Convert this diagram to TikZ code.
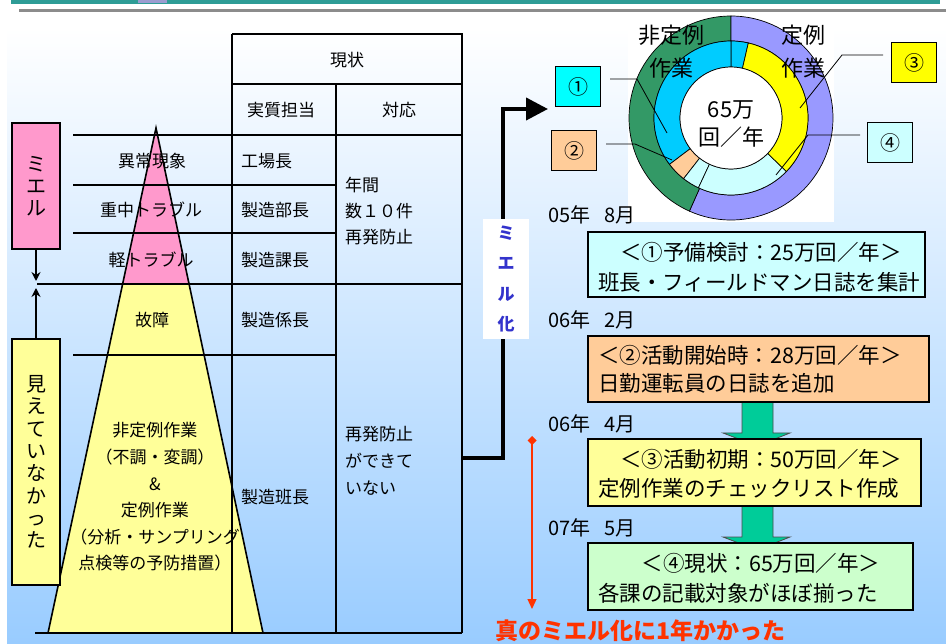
\documentclass[tikz,border=0pt]{standalone}
\usepackage{fontspec}
\setmainfont{Noto Sans CJK JP}
\usetikzlibrary{arrows.meta}
\definecolor{bgblue}{HTML}{99CCFF}
\definecolor{barteal}{HTML}{2E9C96}
\definecolor{barlav}{HTML}{9C9CD0}
\definecolor{pinkP}{HTML}{FF99CC}
\definecolor{yelP}{HTML}{FFFF99}
\definecolor{greenR}{HTML}{339966}
\definecolor{purpR}{HTML}{9999FF}
\definecolor{cyanR}{HTML}{00CCFF}
\definecolor{orangeR}{HTML}{FFCC99}
\definecolor{lcyanR}{HTML}{CCFFFF}
\definecolor{yelR}{HTML}{FFFF00}
\definecolor{cyanB}{HTML}{00FFFF}
\definecolor{greenB}{HTML}{CCFFCC}
\definecolor{arrowG}{HTML}{00CC99}
\definecolor{mieruB}{HTML}{3333CC}
\definecolor{redT}{HTML}{FF3300}
\newcommand{\ringseg}[5]{\filldraw[fill=#1,draw=black,line width=0.7pt] (#2:#4pt) arc[start angle=#2,end angle=#3,radius=#4pt] -- (#3:#5pt) arc[start angle=#3,end angle=#2,radius=#5pt] -- cycle;}
\begin{document}
\begin{tikzpicture}[x=1pt,y=-1pt,
  tbl/.style={line width=1.6pt,black},
  tx/.style={font=\fontsize{17}{20}\selectfont,inner sep=0pt},
  bt/.style={font=\fontsize{21.5}{24}\selectfont,inner sep=0pt},
  dt/.style={font=\fontsize{20}{22}\selectfont,inner sep=0pt},
  rbox/.style={draw=black,line width=1.3pt,inner sep=0pt},
  numbox/.style={draw=black,line width=1pt,minimum width=45pt,minimum height=40pt,inner sep=0pt,font=\fontsize{20}{22}\selectfont},
  leader/.style={black,line width=0.8pt},
  blockarrow/.style={fill=arrowG,draw=black!70,line width=0.8pt},
  vtext/.style={align=center,inner sep=0pt,font=\fontsize{20}{22.3}\selectfont}]
\useasboundingbox (0,0) rectangle (946,644);
% background
\fill[white] (0,0) rectangle (946,644);
\shade[top color=white,bottom color=bgblue] (7,28) rectangle (946,644);
\fill[white] (7,12) rectangle (946,28);
\fill[barteal] (11,0) rectangle (940,4);
\fill[barlav] (138,0) rectangle (167,3);
\fill[black!45] (19,9) rectangle (946,12);

% pyramid fills
\fill[pinkP] (156,130) -- (189,284) -- (123,284) -- cycle;
\fill[yelP] (123,284) -- (189,284) -- (263,633) -- (48,633) -- cycle;

% table
\draw[tbl] (232,34) -- (462,34) -- (462,633);
\draw[tbl] (232,34) -- (232,633);
\draw[tbl] (232,84) -- (462,84);
\draw[tbl] (336,84) -- (336,633);
\draw[tbl] (73,135) -- (462,135);
\draw[tbl] (73,185) -- (336,185);
\draw[tbl] (73,233) -- (336,233);
\draw[tbl] (37,284) -- (462,284);
\draw[tbl] (73,355) -- (336,355);
\draw[line width=2.4pt] (35,633) -- (462,633);

% pyramid edges
\draw[line width=1.6pt] (48,633) -- (156,128) -- (263,633);

% table texts
\node[tx] (genjo) at (347,60) {現状};
\node[tx] (tanto) at (281,110) {実質担当};
\node[tx] (taio) at (399,110) {対応};
\node[tx,anchor=west] (r1) at (241,161) {工場長};
\node[tx,anchor=west] (r2) at (241,210) {製造部長};
\node[tx,anchor=west] (r3) at (241,260) {製造課長};
\node[tx,anchor=west] (r4) at (241,320) {製造係長};
\node[tx,anchor=west] (r5) at (241,497) {製造班長};
\node[tx,anchor=west,align=left,font=\fontsize{17}{26}\selectfont] (t1) at (345,211) {年間\\数１０件\\再発防止};
\node[tx,anchor=west,align=left,font=\fontsize{17}{27}\selectfont] (t2) at (345,461) {再発防止\\ができて\\いない};

% pyramid texts
\node[tx] (p1) at (152,161) {異常現象};
\node[tx] (p2) at (151,210) {重中トラブル};
\node[tx] (p3) at (151,260) {軽トラブル};
\node[tx] (p4) at (152,320) {故障};
\node[tx,align=center,font=\fontsize{17}{26.6}\selectfont] (p5) at (155,497) {非定例作業\\（不調・変調）\\\&\\定例作業\\（分析・サンプリング\\点検等の予防措置）};

% left boxes
\node[draw=black,line width=1.3pt,fill=pinkP,minimum width=48pt,minimum height=126pt,vtext] (mieru) at (36,186) {ミ\\エ\\ル};
\node[draw=black,line width=1.3pt,fill=yelP,minimum width=48pt,minimum height=246pt,vtext] (seen) at (36,462) {見\\え\\て\\い\\な\\か\\っ\\た};
\coordinate (mdown) at (36,281);
\coordinate (mup) at (36,288);
\draw[line width=2.5pt,-{Stealth[length=9pt,width=9pt]}] (mieru.south) -- (mdown);
\draw[line width=2.5pt,-{Stealth[length=9pt,width=9pt]}] (seen.north) -- (mup);

% big black arrow
\coordinate (tblR) at (462,458);
\coordinate (arrEnd) at (548,109);
\draw[line width=4pt,-{Triangle[length=22pt,width=22pt]}] (tblR) -- (503,458) -- (503,109) -- (arrEnd);
\node[fill=white,minimum width=46pt,minimum height=120pt,inner sep=0pt,align=center,text=mieruB,font=\bfseries\fontsize{17}{30.5}\selectfont] (mieruka) at (506,279) {ミ\\エ\\ル\\化};

% donut
\fill[white] (628,13) rectangle (834,222);
\begin{scope}[shift={(731,118)}]
\ringseg{greenR}{90}{246}{102}{77}
\ringseg{purpR}{246}{450}{102}{77}
\ringseg{cyanR}{77}{90}{77}{51}
\ringseg{cyanR}{90}{217}{77}{51}
\ringseg{orangeR}{217}{232}{77}{51}
\ringseg{lcyanR}{232}{245}{77}{51}
\ringseg{lcyanR}{245}{316}{77}{51}
\ringseg{yelR}{316}{437}{77}{51}
\filldraw[fill=white,draw=black,line width=0.7pt] (0,0) circle[radius=51pt];
\end{scope}
\node[dt,font=\fontsize{22}{24}\selectfont] (hitei1) at (671,35) {非定例};
\node[dt,font=\fontsize{22}{24}\selectfont] (hitei2) at (671,68) {作業};
\node[dt,font=\fontsize{22}{24}\selectfont] (tei1) at (803,35) {定例};
\node[dt,font=\fontsize{22}{24}\selectfont] (tei2) at (803,68) {作業};
\node[dt,font=\fontsize{22}{24}\selectfont] (tot1) at (731,110) {65万};
\node[dt,font=\fontsize{22}{24}\selectfont] (tot2) at (731,137) {回／年};

% number boxes and leaders
\node[numbox,fill=cyanB] (c1) at (578,87) {①};
\node[numbox,fill=orangeR] (c2) at (574,151) {②};
\node[numbox,fill=yelR] (c3) at (914,63) {③};
\node[numbox,fill=lcyanR] (c4) at (890,143) {④};
\coordinate (l1a) at (610,79);
\coordinate (l1b) at (667,133);
\coordinate (l2a) at (606,144);
\coordinate (l2b) at (672,160);
\coordinate (l3a) at (883,55);
\coordinate (l3b) at (800,108);
\coordinate (l4a) at (860,135);
\coordinate (l4b) at (776,175);
\draw[leader] (l1a) -- (637,79) -- (l1b);
\draw[leader] (l2a) -- (635,144) -- (l2b);
\draw[leader] (l3a) -- (842,55) -- (l3b);
\draw[leader] (l4a) -- (808,135) -- (l4b);

% block arrows
\filldraw[blockarrow] (742,402) -- (773,402) -- (773,433) -- (790,433) -- (757,446) -- (723,433) -- (742,433) -- cycle;
\filldraw[blockarrow] (742,506) -- (773,506) -- (773,537) -- (790,537) -- (757,550) -- (723,537) -- (742,537) -- cycle;

% timeline boxes
\node[rbox,fill=lcyanR,minimum width=337pt,minimum height=65pt] (box1) at (756.5,264.5) {};
\node[rbox,fill=orangeR,minimum width=341pt,minimum height=66pt] (box2) at (758.5,369) {};
\node[rbox,fill=yelP,minimum width=333pt,minimum height=67pt] (box3) at (754.5,472.5) {};
\node[rbox,fill=greenB,minimum width=325pt,minimum height=67pt] (box4) at (750.5,576.5) {};

\node[bt] (b1l1) at (761,252) {＜①予備検討：25万回／年＞};
\node[bt,anchor=west] (b1l2) at (598,282) {班長・フィールドマン日誌を集計};
\node[bt,anchor=west] (b2l1) at (598,355) {＜②活動開始時：28万回／年＞};
\node[bt,anchor=west] (b2l2) at (598,383) {日勤運転員の日誌を追加};
\node[bt] (b3l1) at (761,459) {＜③活動初期：50万回／年＞};
\node[bt,anchor=west] (b3l2) at (598,488) {定例作業のチェックリスト作成};
\node[bt] (b4l1) at (761,563) {＜④現状：65万回／年＞};
\node[bt,anchor=west] (b4l2) at (598,593) {各課の記載対象がほぼ揃った};

\node[dt,anchor=west] (d1) at (548,215) {05年\hspace{14pt}8月};
\node[dt,anchor=west] (d2) at (548,320) {06年\hspace{14pt}2月};
\node[dt,anchor=west] (d3) at (548,424) {06年\hspace{14pt}4月};
\node[dt,anchor=west] (d4) at (548,528) {07年\hspace{14pt}5月};

% red arrow and text
\coordinate (ra1) at (532,436);
\coordinate (ra2) at (532,609);
\draw[redT,line width=1.3pt,{Diamond[length=9pt,width=9pt]}-{Triangle[length=10pt,width=9pt]}] (ra1) -- (ra2);
\node[anchor=north west,inner sep=0pt,text=redT,font=\bfseries\fontsize{23}{25}\selectfont] (redtxt) at (495,620) {真のミエル化に1年かかった};
\end{tikzpicture}
\end{document}
